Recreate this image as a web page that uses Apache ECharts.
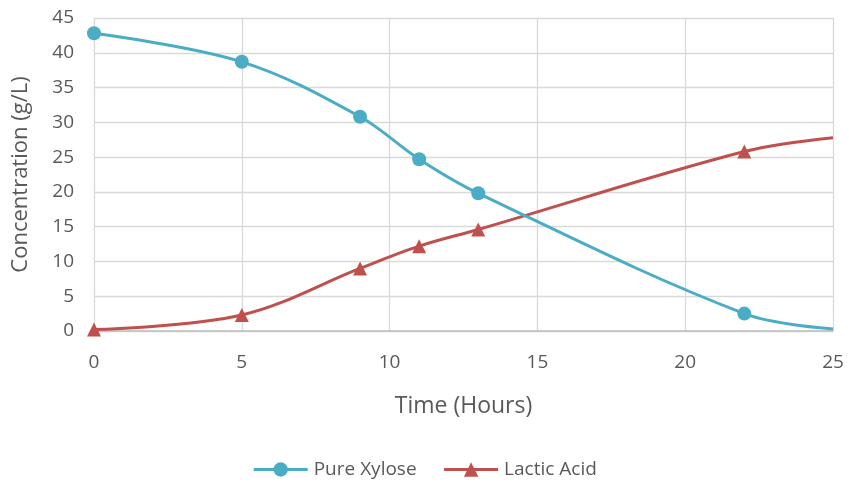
<!DOCTYPE html>
<html>
<head>
<meta charset="utf-8">
<script src="https://cdn.jsdelivr.net/npm/echarts@6/dist/echarts.min.js"></script>
<style>
  html, body { margin: 0; padding: 0; background: #fff; }
  #chart { width: 849px; height: 487px; }
</style>
</head>
<body>
<div id="chart"></div>
<script>
// Sampling times (hours)
const hours = [0, 5, 9, 11, 13, 22, 25];
// Concentrations (g/L)
const pureXylose = [42.8, 38.7, 30.8, 24.7, 19.8, 2.5, 0.3];
const lacticAcid = [0.2, 2.3, 9.0, 12.2, 14.6, 25.8, 27.8];
const xTicks = { min: 0, max: 25, step: 5 };
const yTicks = { min: 0, max: 45, step: 5 };

// Last sample is drawn on the curve only, without a marker
function toPoints(vals) {
  return hours.map((h, i) => {
    const item = { value: [h, vals[i]] };
    if (i === hours.length - 1) item.symbol = 'none';
    return item;
  });
}

const font = '"Open Sans", sans-serif';
const textColor = '#595959';
const chart = echarts.init(document.getElementById('chart'));
chart.setOption({
  animation: false,
  grid: { left: 94, right: 16, top: 18, bottom: 156 },
  legend: {
    top: 455,
    left: 'center',
    itemGap: 26,
    itemWidth: 54,
    itemHeight: 18,
    lineStyle: { width: 3 },
    textStyle: { fontFamily: font, fontSize: 19, color: textColor, padding: [0, 0, 0, 1] },
    data: ['Pure Xylose', 'Lactic Acid']
  },
  xAxis: {
    type: 'value',
    min: xTicks.min, max: xTicks.max, interval: xTicks.step,
    name: 'Time (Hours)',
    nameLocation: 'middle',
    nameGap: 64,
    nameTextStyle: { fontFamily: font, fontSize: 23, color: textColor },
    axisLine: { show: true, lineStyle: { color: '#bfbfbf', width: 1.5 } },
    axisTick: { show: false },
    axisLabel: { fontFamily: font, fontSize: 19, color: textColor, margin: 22 },
    splitLine: { show: true, lineStyle: { color: '#d9d9d9', width: 1.3 } }
  },
  yAxis: {
    type: 'value',
    min: yTicks.min, max: yTicks.max, interval: yTicks.step,
    name: 'Concentration (g/L)',
    nameLocation: 'middle',
    nameGap: 62,
    nameTextStyle: { fontFamily: font, fontSize: 22, color: textColor },
    axisLine: { show: false },
    axisTick: { show: false },
    axisLabel: { fontFamily: font, fontSize: 19, color: textColor, margin: 20 },
    splitLine: { show: true, lineStyle: { color: '#d9d9d9', width: 1.3 } }
  },
  series: [
    {
      name: 'Pure Xylose',
      type: 'line',
      smooth: 0.35,
      symbol: 'circle',
      symbolSize: 14,
      lineStyle: { color: '#4bacc6', width: 3 },
      itemStyle: { color: '#4bacc6' },
      data: toPoints(pureXylose),
      z: 3
    },
    {
      name: 'Lactic Acid',
      type: 'line',
      smooth: 0.35,
      symbol: 'triangle',
      symbolSize: 14,
      lineStyle: { color: '#c0504d', width: 3 },
      itemStyle: { color: '#c0504d' },
      data: toPoints(lacticAcid),
      z: 2
    }
  ]
});
</script>
</body>
</html>
